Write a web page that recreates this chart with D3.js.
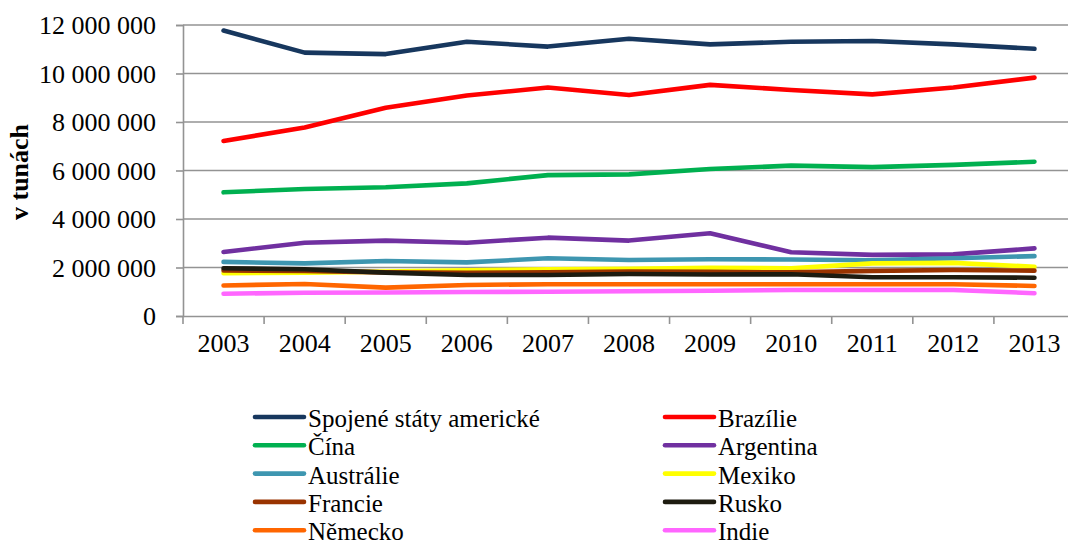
<!DOCTYPE html>
<html>
<head>
<meta charset="utf-8">
<title>Produkce</title>
<script src="https://d3js.org/d3.v7.min.js"></script>
<style>
  body { margin: 0; background: #fff; }
  svg { display: block; }
  svg text { font-family: "Liberation Serif", "Times New Roman", "DejaVu Serif", serif; fill: #000; }
  .grid line { stroke: #939393; stroke-width: 1.6px; }
  .axis path, .axis line { stroke: #939393; stroke-width: 1.6px; }
  .axis text { font-size: 26px; }
  .series { fill: none; stroke-width: 4.6px; stroke-linejoin: round; stroke-linecap: round; }
  .legend text { font-size: 25px; }
</style>
</head>
<body>
<svg width="1068" height="540"></svg>
<script>
var years = ["2003", "2004", "2005", "2006", "2007", "2008", "2009", "2010", "2011", "2012", "2013"];
var yTicks = [0, 2000000, 4000000, 6000000, 8000000, 10000000, 12000000];

var names = ["Spojené státy americké", "Brazílie", "Čína", "Argentina", "Austrálie",
             "Mexiko", "Francie", "Rusko", "Německo", "Indie"];
var colors = ["#17375e", "#ff0000", "#00b050", "#7030a0", "#3e96b0",
              "#ffff00", "#993300", "#1d1b10", "#ff6600", "#ff66ff"];

var usa       = [11770000, 10860000, 10800000, 11310000, 11110000, 11430000, 11200000, 11310000, 11340000, 11200000, 11020000];
var brazil    = [7220000, 7770000, 8590000, 9090000, 9420000, 9110000, 9530000, 9320000, 9140000, 9420000, 9830000];
var china     = [5100000, 5240000, 5310000, 5470000, 5810000, 5840000, 6060000, 6200000, 6140000, 6230000, 6360000];
var argentina = [2640000, 3020000, 3110000, 3020000, 3230000, 3110000, 3410000, 2630000, 2520000, 2540000, 2790000];
var australia = [2230000, 2170000, 2270000, 2210000, 2380000, 2310000, 2340000, 2330000, 2300000, 2380000, 2470000];
var mexico    = [1760000, 1790000, 1830000, 1880000, 1930000, 1950000, 1990000, 1970000, 2170000, 2190000, 2030000];
var france    = [1880000, 1860000, 1800000, 1780000, 1800000, 1830000, 1820000, 1800000, 1860000, 1900000, 1870000];
var russia    = [1970000, 1930000, 1790000, 1690000, 1690000, 1730000, 1710000, 1720000, 1600000, 1600000, 1580000];
var germany   = [1260000, 1320000, 1170000, 1280000, 1310000, 1310000, 1310000, 1310000, 1310000, 1310000, 1240000];
var india     = [920000, 960000, 970000, 990000, 1000000, 1020000, 1040000, 1070000, 1070000, 1070000, 940000];

var values = [usa, brazil, china, argentina, australia, mexico, france, russia, germany, india];

var svg = d3.select("svg");
var plotLeft = 183, plotRight = 1075, plotTop = 25, plotBottom = 316;

var x = d3.scaleBand().domain(years).range([plotLeft, plotRight]);
var y = d3.scaleLinear().domain([0, 12000000]).range([plotBottom, plotTop]);

var fmt = function (v) { return d3.format(",")(v).replace(/,/g, " "); };

// horizontal grid
svg.append("g").attr("class", "grid")
  .selectAll("line").data(yTicks.slice(1)).enter().append("line")
  .attr("x1", plotLeft).attr("x2", plotRight)
  .attr("y1", function (d) { return y(d); })
  .attr("y2", function (d) { return y(d); });

// y axis
var yAxis = svg.append("g").attr("class", "axis")
  .attr("transform", "translate(" + plotLeft + ",0)")
  .call(d3.axisLeft(y).tickValues(yTicks).tickFormat(fmt).tickSize(7).tickPadding(20));
yAxis.attr("font-family", null).attr("font-size", null);
yAxis.selectAll("text").attr("dy", "0.34em");

// x axis
var xAxis = svg.append("g").attr("class", "axis")
  .attr("transform", "translate(0," + plotBottom + ")")
  .call(d3.axisBottom(x).tickSize(0).tickPadding(31));
xAxis.attr("font-family", null).attr("font-size", null);
xAxis.selectAll(".tick text").attr("dy", "0.2em");
// ticks between categories
xAxis.selectAll(".sep").data(d3.range(years.length + 1)).enter().append("line")
  .attr("class", "sep")
  .attr("x1", function (i) { return plotLeft + i * x.step(); })
  .attr("x2", function (i) { return plotLeft + i * x.step(); })
  .attr("y1", 0).attr("y2", 8);

// axis title
svg.append("text")
  .attr("transform", "translate(28,172) rotate(-90)")
  .attr("text-anchor", "middle")
  .style("font-size", "26px").style("font-weight", "bold")
  .text("v tunách");

// lines
var line = d3.line()
  .x(function (d, i) { return x(years[i]) + x.bandwidth() / 2; })
  .y(function (d) { return y(d); });

svg.append("g").selectAll("path").data(values).enter().append("path")
  .attr("class", "series")
  .attr("stroke", function (d, i) { return colors[i]; })
  .attr("d", line);

// legend
var legend = svg.append("g").attr("class", "legend");
var item = legend.selectAll("g").data(names).enter().append("g")
  .attr("transform", function (d, i) {
    var col = i % 2, row = Math.floor(i / 2);
    return "translate(" + (col ? 665 : 255) + "," + (417 + row * 28.3) + ")";
  });
item.append("line")
  .attr("x1", 0).attr("x2", 49).attr("y1", 0).attr("y2", 0)
  .attr("stroke", function (d, i) { return colors[i]; })
  .attr("stroke-width", 4.6).attr("stroke-linecap", "round");
item.append("text")
  .attr("x", 53).attr("y", 10)
  .text(function (d) { return d; });
</script>
</body>
</html>
